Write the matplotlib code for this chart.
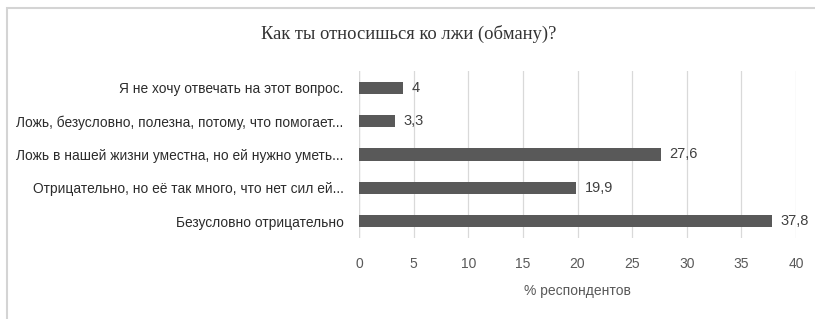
import matplotlib
matplotlib.use("Agg")
import matplotlib.pyplot as plt
from matplotlib.patches import Rectangle

title = "Как ты относишься ко лжи (обману)?"
categories = [
    "Безусловно отрицательно",
    "Отрицательно, но её так много, что нет сил ей...",
    "Ложь в нашей жизни уместна, но ей нужно уметь...",
    "Ложь, безусловно, полезна, потому, что помогает...",
    "Я не хочу отвечать на этот вопрос.",
]
values = [37.8, 19.9, 27.6, 3.3, 4]
xticks = [0, 5, 10, 15, 20, 25, 30, 35, 40]
xlabel = "% респондентов"

bar_color = "#595959"
grid_color = "#d9d9d9"
text_gray = "#595959"
sans = ["Liberation Sans", "DejaVu Sans"]

fig = plt.figure(figsize=(8.15, 3.19), dpi=100)
fig.patch.set_facecolor("white")

# light frame around the chart area
fig.patches.append(Rectangle((7 / 815, -0.01), 1.0, 1 - 8 / 319 + 0.01,
                             transform=fig.transFigure, fill=False,
                             edgecolor="#d4d4d4", linewidth=1.5))

ax = fig.add_axes([359 / 815, 1 - 238 / 319, 437 / 815, 167 / 319])
ypos = list(range(len(categories)))
ax.barh(ypos, values, height=0.36, color=bar_color, zorder=3)
ax.set_xlim(0, 40)
ax.set_ylim(-0.5, len(categories) - 0.5)
ax.set_xticks(xticks)
ax.set_xticklabels([str(t) for t in xticks], fontsize=10, color=text_gray,
                   family=sans)
ax.set_yticks(ypos)
ax.set_yticklabels(categories, fontsize=9.9, color="#2b2b2b", family=sans)
ax.tick_params(axis="x", length=0, pad=14)
ax.tick_params(axis="y", length=0, pad=11)
ax.grid(axis="x", color=grid_color, linewidth=0.9, zorder=0)
for s in ax.spines.values():
    s.set_visible(False)
ax.axvline(0, color=grid_color, linewidth=0.9, zorder=1)

for y, v in zip(ypos, values):
    ax.text(v + 0.8, y, f"{v:g}".replace(".", ","), va="center", ha="left",
            fontsize=10.5, color="#404040", family=sans)

ax.set_xlabel(xlabel, fontsize=10, color=text_gray, labelpad=9, family=sans)

fig.text(409 / 815, 1 - 34 / 319, title, ha="center", va="center",
         fontsize=13.3, color="#333333", family=["Liberation Serif", "DejaVu Serif"])

fig.savefig("out.png", dpi=100)
